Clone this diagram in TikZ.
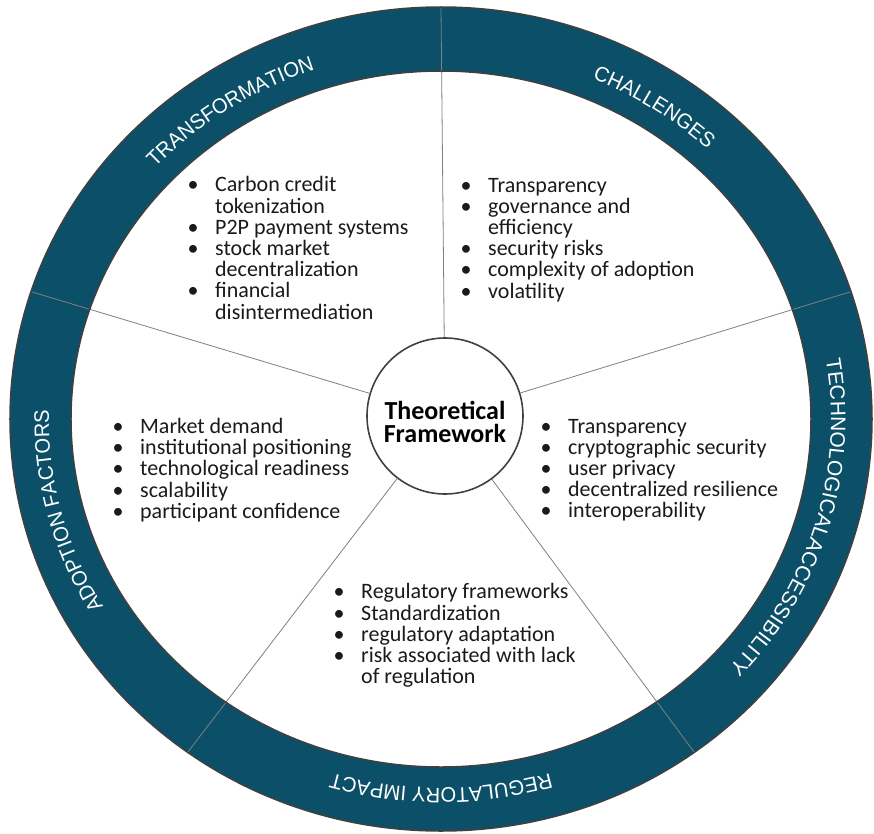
\documentclass[tikz,border=0pt]{standalone}
\usepackage{fontspec}
\setmainfont{Carlito}
\newfontfamily\ringfont[FakeStretch=0.96]{Liberation Sans}
\newfontfamily\ringfontwide{Liberation Sans}
\usetikzlibrary{decorations.text}

\definecolor{ringblue}{RGB}{11,80,104}
\definecolor{rimgray}{RGB}{64,64,64}
\definecolor{spokegray}{RGB}{128,128,128}
\definecolor{inktext}{RGB}{26,26,26}

% bullet item and its continuation line
\newcommand{\bitem}[1]{\strut\makebox[27.5pt][l]{\textbullet}#1}
\newcommand{\bcont}[1]{\strut\hspace*{27.5pt}#1}
% fixed line pitch regardless of glyph heights
\newcommand{\listfont}{\fontsize{22}{21.2}\selectfont\lineskiplimit=-20pt\relax}

\begin{document}
\begin{tikzpicture}[x=1pt,y=1pt,
  ringlabel/.style={decorate, decoration={text along path, text align=center,
      text color=white, text={|\ringfont\fontsize{21}{21}\selectfont|#1}}},
  ringlabelwide/.style={decorate, decoration={text along path, text align=center,
      text color=white, text={|\ringfontwide\fontsize{21}{21}\selectfont|#1}}},
  bulletlist/.style={anchor=north west, inner sep=0pt, align=left, text=inktext,
      font=\listfont},
  rim/.style={draw=rimgray, line width=1.5pt},
  spoke/.style={draw=spokegray, line width=0.8pt},
  hub/.style={circle, draw=rimgray, line width=1.6pt, fill=white, minimum size=156pt, inner sep=0pt},
  hubtext/.style={align=center, text=black, inner sep=0pt,
      font=\bfseries\fontsize{26}{23.5}\selectfont}]

\useasboundingbox (-441,-414) rectangle (433,419);

% outer ring
\fill[ringblue, even odd rule] (0,0) ellipse[x radius=431pt, y radius=412pt]
                               (0,0) ellipse[x radius=370pt, y radius=348pt];

% centre
\node[hub] (tf) at (4,3) {};
\node[hubtext] (tftext) at (4,-3) {Theoretical\\Framework};

% spokes dividing the five sectors
\coordinate (o1) at (90:431pt and 412pt);
\coordinate (o2) at (162:431pt and 412pt);
\coordinate (o3) at (234:431pt and 412pt);
\coordinate (o4) at (306:431pt and 412pt);
\coordinate (o5) at (18:431pt and 412pt);
\foreach \o in {o1,o2,o3,o4,o5} \draw[spoke] (tf) -- (\o);

\draw[rim] (0,0) ellipse[x radius=431pt, y radius=412pt];
\draw[rim] (0,0) ellipse[x radius=370pt, y radius=348pt];

% ring labels, clockwise
\path[ringlabel={TRANSFORMATION}] (184:390pt and 369pt)
  arc[start angle=184, end angle=64, x radius=390pt, y radius=369pt];
\path[ringlabel={CHALLENGES}] (116:390pt and 369pt)
  arc[start angle=116, end angle=-4, x radius=390pt, y radius=369pt];
\path[ringlabelwide={TECHNOLOGICALACCESSIBILITY}] (54:390pt and 369pt)
  arc[start angle=54, end angle=-86, x radius=390pt, y radius=369pt];
\path[ringlabel={REGULATORY IMPACT}] (330:390pt and 369pt)
  arc[start angle=330, end angle=210, x radius=390pt, y radius=369pt];
\path[ringlabel={ADOPTION FACTORS}] (254:392pt and 369pt)
  arc[start angle=254, end angle=134, x radius=392pt, y radius=369pt];

% sector contents
\node[bulletlist] (transf) at (-253.5,242.5) {%
  \bitem{Carbon credit}\\
  \bcont{tokenization}\\
  \bitem{P2P payment systems}\\
  \bitem{stock market}\\
  \bcont{decentralization}\\
  \bitem{financial}\\
  \bcont{disintermediation}};

\node[bulletlist] (chall) at (19.5,242) {%
  \bitem{Transparency}\\
  \bitem{governance and}\\
  \bcont{efficiency}\\
  \bitem{security risks}\\
  \bitem{complexity of adoption}\\
  \bitem{volatility}};

\node[bulletlist] (techacc) at (99.5,1) {%
  \bitem{Transparency}\\
  \bitem{cryptographic security}\\
  \bitem{user privacy}\\
  \bitem{decentralized resilience}\\
  \bitem{interoperability}};

\node[bulletlist] (adopt) at (-328.5,1) {%
  \bitem{Market demand}\\
  \bitem{institutional positioning}\\
  \bitem{technological readiness}\\
  \bitem{scalability}\\
  \bitem{participant confidence}};

\node[bulletlist] (regul) at (-107.5,-164.5) {%
  \bitem{Regulatory frameworks}\\
  \bitem{Standardization}\\
  \bitem{regulatory adaptation}\\
  \bitem{risk associated with lack}\\
  \bcont{of regulation}};

\end{tikzpicture}
\end{document}
